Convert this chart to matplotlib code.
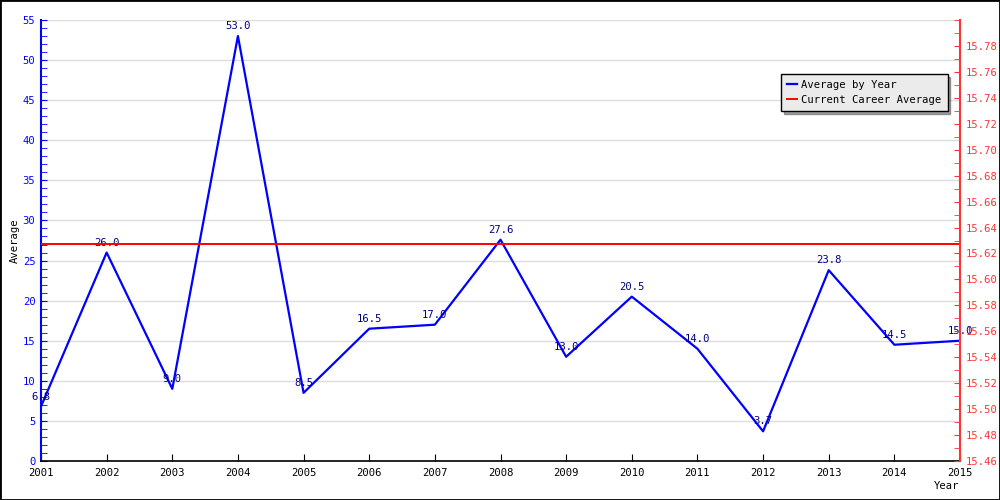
import numpy as np
import matplotlib
matplotlib.use('Agg')
import matplotlib.pyplot as plt
from matplotlib.ticker import MultipleLocator, FormatStrFormatter

years = [2001, 2002, 2003, 2004, 2005, 2006, 2007, 2008, 2009, 2010, 2011, 2012, 2013, 2014, 2015]
avg_by_year = [6.8, 26.0, 9.0, 53.0, 8.5, 16.5, 17.0, 27.6, 13.0, 20.5, 14.0, 3.7, 23.8, 14.5, 15.0]
career_avg = 15.627

plt.rcParams['font.family'] = ['DejaVu Sans Mono']
fs = 7.6

fig = plt.figure(figsize=(10, 5), dpi=100)
ax = fig.add_axes([0.041, 0.078, 0.919, 0.882])
ax2 = ax.twinx()

ax.plot(years, avg_by_year, color='#0000ff', lw=1.6, label='Average by Year', zorder=3)
for x, y in zip(years, avg_by_year):
    ax.annotate('%.1f' % y, (x, y), xytext=(0, 3.5), textcoords='offset points',
                ha='center', va='bottom', fontsize=fs, color='#000080', zorder=4)

ax2.axhline(career_avg, color='#ff0000', lw=1.4, label='Current Career Average')

ax.set_xlim(2001, 2015)
ax.set_ylim(0, 55)
ax2.set_ylim(15.46, 15.80)
ax.set_xticks(years)
ax.set_xticklabels([str(y) for y in years])
ax.yaxis.set_major_locator(MultipleLocator(5))
ax.yaxis.set_minor_locator(MultipleLocator(1))
ax2.set_yticks(np.arange(15.46, 15.79, 0.02))
ax2.yaxis.set_major_formatter(FormatStrFormatter('%.2f'))
ax2.yaxis.set_minor_locator(MultipleLocator(0.01))

ax.grid(axis='y', color='#dddddd', lw=1)
ax.set_axisbelow(True)

ax.tick_params(axis='x', direction='in', length=5, colors='black', labelsize=fs, pad=5)
ax.tick_params(axis='y', which='both', direction='in', length=4, colors='#0000ff', labelsize=fs, pad=4)
ax2.tick_params(axis='y', which='both', direction='in', length=4, colors='#ff3333', labelsize=fs, pad=4)

for a in (ax, ax2):
    a.spines['top'].set_visible(False)
ax.spines['right'].set_visible(False)
ax2.spines['left'].set_visible(False)
ax2.spines['bottom'].set_visible(False)
ax.spines['left'].set_color('#0000ff')
ax.spines['left'].set_linewidth(1.5)
ax2.spines['right'].set_color('#ff3333')
ax2.spines['right'].set_linewidth(1.5)
ax.spines['bottom'].set_linewidth(1.2)

ax.set_ylabel('Average', fontsize=fs, labelpad=2)
fig.text(0.947, 0.028, 'Year', fontsize=fs, ha='center', va='center')

h1, l1 = ax.get_legend_handles_labels()
h2, l2 = ax2.get_legend_handles_labels()
leg = ax2.legend(h1 + h2, l1 + l2, loc='upper right', bbox_to_anchor=(0.9865, 0.878),
                 fontsize=fs, frameon=True, fancybox=False, shadow=True,
                 handlelength=0.9, handletextpad=0.4, borderpad=0.6, labelspacing=0.45,
                 borderaxespad=0)
leg.get_frame().set_facecolor('#ebebeb')
leg.get_frame().set_edgecolor('black')
leg.get_frame().set_alpha(1)

fig.patches.append(plt.Rectangle((0, 0), 1, 1, transform=fig.transFigure, fill=False,
                                 edgecolor='black', lw=2))

fig.savefig('out.png', dpi=100)
